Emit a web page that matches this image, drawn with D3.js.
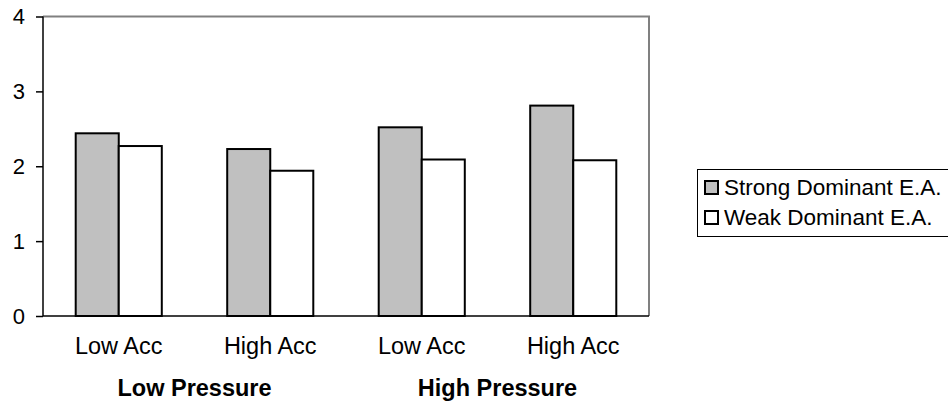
<!DOCTYPE html>
<html>
<head>
<meta charset="utf-8">
<script src="https://cdn.jsdelivr.net/npm/d3@7"></script>
<style>
  body { margin: 0; background: #fff; }
  svg  { display: block; font-family: Arial, "Liberation Sans", sans-serif; }
  .axis path, .axis line { stroke: #000; stroke-width: 1.5px; }
  .axis text { font-size: 22px; fill: #000; }
</style>
</head>
<body>
<div id="chart"></div>
<script>
// Data
var categories = ["Low Acc", "High Acc", "Low Acc ", "High Acc "]
var groups     = ["Low Pressure", "High Pressure"]
var seriesName = ["Strong Dominant E.A.", "Weak Dominant E.A."]
var strongVals = [2.44, 2.23, 2.52, 2.81]
var weakVals   = [2.27, 1.94, 2.09, 2.08]
var yTicks     = [0, 1, 2, 3, 4]
var colours    = ["#c0c0c0", "#ffffff"]

var W      = 948,
    H      = 406,
    mLeft  = 43,   // plot area edges
    mRight = 649,
    mTop   = 16.5,
    mBot   = 316

var svg = d3.select("#chart").append("svg")
            .attr("width", W)
            .attr("height", H)

// Scales
var x0 = d3.scaleBand().domain(categories).range([mLeft, mRight]).padding(0)
var x1 = d3.scaleBand().domain(seriesName).range([0, x0.bandwidth()])
           .paddingInner(0).paddingOuter(0.76)
var y  = d3.scaleLinear().domain([0, 4]).range([mBot, mTop])

// Plot frame (grey top and right)
svg.append("path")
   .attr("d", "M" + mLeft + "," + mTop + "H" + mRight + "V" + mBot)
   .attr("fill", "none")
   .attr("stroke", "#808080")
   .attr("stroke-width", 2)

// Bars
var rows = categories.map(function (c, i) {
  return { cat: c, vals: [strongVals[i], weakVals[i]] }
})
var g = svg.selectAll(".group")
           .data(rows)
           .enter().append("g")
             .attr("class", "group")
             .attr("transform", function (d) { return "translate(" + x0(d.cat) + ",0)" })
g.selectAll("rect")
 .data(function (d) { return d.vals.map(function (v, j) { return { s: seriesName[j], v: v, c: colours[j] } }) })
 .enter().append("rect")
   .attr("x", function (d) { return x1(d.s) })
   .attr("y", function (d) { return y(d.v) })
   .attr("width", x1.bandwidth())
   .attr("height", function (d) { return y(0) - y(d.v) })
   .attr("fill", function (d) { return d.c })
   .attr("stroke", "#000")
   .attr("stroke-width", 2)

// Axes
var yAxis = d3.axisLeft(y).tickValues(yTicks).tickSize(7).tickPadding(11).tickFormat(d3.format("d"))
svg.append("g")
   .attr("class", "axis axis-y")
   .attr("transform", "translate(" + mLeft + ",0)")
   .call(yAxis)
   .call(function (a) { a.select(".domain").attr("d", "M0," + mTop + "V" + mBot) })

var xAxis = d3.axisBottom(x0).tickSize(0).tickPadding(21).tickFormat(function (d) { return d.trim() })
svg.append("g")
   .attr("class", "axis axis-x")
   .attr("transform", "translate(0," + mBot + ")")
   .call(xAxis)
   .call(function (a) { a.select(".domain").attr("d", "M" + mLeft + ",0H" + mRight) })
   .selectAll("text").style("font-size", "23.5px")

// Group labels
svg.selectAll(".groupLabel")
   .data(groups)
   .enter().append("text")
     .attr("class", "groupLabel")
     .attr("x", function (d, i) { return x0(categories[i * 2 + 1]) })
     .attr("y", 396)
     .attr("text-anchor", "middle")
     .style("font-size", "23.5px")
     .style("font-weight", "bold")
     .text(function (d) { return d })

// Legend
var legend = svg.append("g").attr("class", "legend")
legend.append("rect")
      .attr("x", 697.5).attr("y", 169.5)
      .attr("width", 260).attr("height", 67)
      .attr("fill", "#fff").attr("stroke", "#000").attr("stroke-width", 1)
var item = legend.selectAll(".item")
                 .data(seriesName)
                 .enter().append("g")
                   .attr("class", "item")
                   .attr("transform", function (d, i) { return "translate(705," + (181 + i * 30) + ")" })
item.append("rect")
    .attr("width", 13).attr("height", 13)
    .attr("fill", function (d, i) { return colours[i] })
    .attr("stroke", "#000").attr("stroke-width", 2)
item.append("text")
    .attr("x", 19).attr("y", 14)
    .style("font-size", "22.5px")
    .text(function (d) { return d })
</script>
</body>
</html>
